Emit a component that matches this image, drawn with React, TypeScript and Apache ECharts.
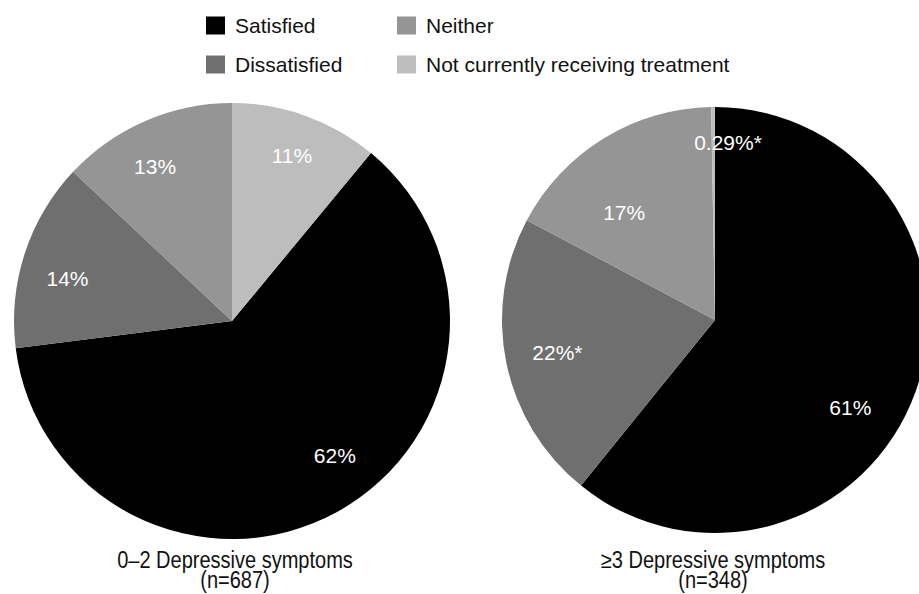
import React, { useEffect, useRef } from "react";
import * as echarts from "echarts";

// ---- data ----
const CATEGORIES = [
  "Satisfied",
  "Dissatisfied",
  "Neither",
  "Not currently receiving treatment",
];
const COLORS = ["#000000", "#6f6f6f", "#959595", "#bdbdbd"];
const LOW_VALUES = [62, 14, 13, 11];
const HIGH_VALUES = [61, 22, 17, 0.29];
const LOW_LABELS = ["62%", "14%", "13%", "11%"];
const HIGH_LABELS = ["61%", "22%*", "17%", "0.29%*"];
const LOW_CAPTION = ["0–2 Depressive symptoms", "(n=687)"];
const HIGH_CAPTION = ["≥3 Depressive symptoms", "(n=348)"];

// ---- layout ----
const PIES = [
  { cx: 232, cy: 321, r: 218, startAngle: 50.4, captionX: 235, labelAngle: [142.5, 284.6, 333.6, 19.9], labelR: [169, 170, 173, 176] },
  { cx: 715, cy: 320, r: 213, startAngle: 90, captionX: 713, labelAngle: [122.8, 258.2, 319.9, 4.2], labelR: [161, 161, 141, 178] },
];
const CAPTION_Y = [560, 580];
const FONT = "'Liberation Sans', Arial, Helvetica, sans-serif";

export default function App() {
  const ref = useRef<HTMLDivElement>(null);
  useEffect(() => {
    if (!ref.current) return;
    const chart = echarts.init(ref.current, undefined, { renderer: "svg" });
    const valueSets = [LOW_VALUES, HIGH_VALUES];
    const labelSets = [LOW_LABELS, HIGH_LABELS];
    const captionSets = [LOW_CAPTION, HIGH_CAPTION];
    const series = PIES.map((p, si) => ({
      type: "pie",
      name: si === 0 ? "low" : "high",
      center: [p.cx, p.cy],
      radius: [0, p.r],
      startAngle: p.startAngle,
      clockwise: true,
      silent: true,
      avoidLabelOverlap: false,
      data: CATEGORIES.map((c, i) => ({
        name: c,
        value: valueSets[si][i],
        itemStyle: { color: COLORS[i] },
        label: { formatter: labelSets[si][i] },
      })),
      label: {
        show: true,
        position: "inside",
        color: "#ffffff",
        fontSize: 21,
        fontFamily: FONT,
      },
      labelLine: { show: false },
      labelLayout: (params: any) => {
        const i = params.dataIndex;
        const a = (p.labelAngle[i] * Math.PI) / 180;
        return {
          x: p.cx + p.labelR[i] * Math.sin(a),
          y: p.cy - p.labelR[i] * Math.cos(a),
          align: "center",
          verticalAlign: "middle",
        };
      },
      emphasis: { disabled: true },
    }));

    const legendItem = (name: string, left: number, top: number) => ({
      data: [name],
      left,
      top,
      orient: "horizontal",
      icon: "rect",
      itemWidth: 19,
      itemHeight: 18,
      selectedMode: false,
      padding: 0,
      textStyle: {
        fontSize: 21,
        fontFamily: FONT,
        color: "#111111",
        padding: [0, 0, 0, 5],
      },
    });

    const captions: any[] = [];
    PIES.forEach((p, si) => {
      captionSets[si].forEach((line, li) => {
        captions.push({
          type: "text",
          x: p.captionX,
          y: CAPTION_Y[li],
          scaleX: 0.87,
          style: {
            text: line,
            textAlign: "center",
            textVerticalAlign: "middle",
            fontSize: 23,
            fontFamily: FONT,
            fill: "#111111",
          },
        });
      });
    });

    chart.setOption({
      animation: false,
      backgroundColor: "#ffffff",
      color: COLORS,
      legend: [
        legendItem("Satisfied", 206, 15),
        legendItem("Neither", 397, 15),
        legendItem("Dissatisfied", 206, 54),
        legendItem("Not currently receiving treatment", 397, 54),
      ],
      series,
      graphic: captions,
    });
    return () => chart.dispose();
  }, []);
  return (
    <div
      ref={ref}
      style={{ position: "absolute", left: 0, top: 0, width: 919, height: 594, background: "#fff" }}
    />
  );
}
